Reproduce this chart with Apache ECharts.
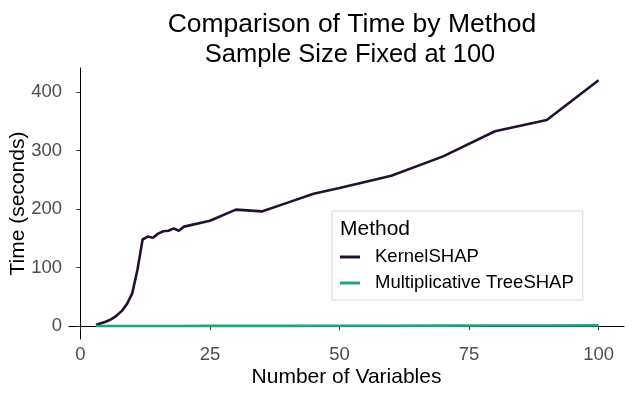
<!doctype html>
<html lang="en">
<head>
	<meta charset="utf-8" />
	<title>Comparison of Time by Method</title>
	<script src="https://cdn.jsdelivr.net/npm/echarts@6/dist/echarts.min.js"></script>
	<style>
		html, body { margin: 0; padding: 0; background: #fff; }
		#chart { width: 632px; height: 393px; }
	</style>
</head>
<body>
	<div id="chart"></div>
	<script>
		// number of variables
		const numVars = [3, 4, 5, 6, 7, 8, 9, 10, 11, 12, 13, 14, 15, 16, 17, 18, 19, 20, 25, 30, 35, 40, 45, 50, 60, 70, 80, 90, 100];
		// time in seconds
		const kernelShap = [2, 5, 8, 12, 18, 26, 38, 56, 96, 148, 153, 151, 158, 162, 163, 167, 163, 170, 180, 199, 196, 211, 226, 236, 257, 290, 333, 352, 420];
		const treeShap = [0.1, 0.1, 0.1, 0.1, 0.1, 0.1, 0.1, 0.2, 0.2, 0.2, 0.2, 0.2, 0.3, 0.3, 0.3, 0.3, 0.3, 0.3, 0.4, 0.4, 0.5, 0.5, 0.6, 0.6, 0.7, 0.8, 1.0, 1.1, 1.3];
		const xTicks = [0, 25, 50, 75, 100];
		const yTicks = [0, 100, 200, 300, 400];

		const font = '"Liberation Sans", Arial, sans-serif';
		const chart = echarts.init(document.getElementById('chart'));
		chart.setOption({
			animation: false,
			title: [
				{
					text: 'Comparison of Time by Method',
					left: 347, top: 6, textAlign: 'center',
					textStyle: { fontFamily: font, fontSize: 26.5, fontWeight: 'normal', color: '#000' }
				},
				{
					text: 'Sample Size Fixed at 100',
					left: 345, top: 37, textAlign: 'center',
					textStyle: { fontFamily: font, fontSize: 25.5, fontWeight: 'normal', color: '#000' }
				}
			],
			grid: { left: 69, right: 8, top: 68, bottom: 54, containLabel: false, outerBoundsMode: 'none' },
			xAxis: {
				type: 'value',
				min: -2.2, max: 104.9,
				name: 'Number of Variables',
				nameLocation: 'middle',
				nameGap: 28,
				nameMoveOverlap: false,
				nameTextStyle: { fontFamily: font, fontSize: 21, color: '#000' },
				splitLine: { show: false },
				axisLine: { lineStyle: { color: '#000', width: 1 } },
				axisTick: { customValues: xTicks, length: 4, lineStyle: { color: '#333' } },
				axisLabel: { customValues: xTicks, margin: 6, fontFamily: font, fontSize: 18.5, color: '#4d4d4d' }
			},
			yAxis: {
				type: 'value',
				min: -22, max: 441,
				name: 'Time (seconds)',
				nameLocation: 'middle',
				nameGap: 40,
				nameMoveOverlap: false,
				nameTextStyle: { fontFamily: font, fontSize: 21, color: '#000' },
				splitLine: { show: false },
				axisLine: { show: true, lineStyle: { color: '#000', width: 1 } },
				axisTick: { show: true, customValues: yTicks, length: 4, lineStyle: { color: '#333' } },
				axisLabel: { customValues: yTicks, margin: 7, fontFamily: font, fontSize: 18.5, color: '#4d4d4d' }
			},
			legend: {
				orient: 'vertical',
				left: 332, top: 211,
				padding: [36, 9, 7, 8],
				icon: 'rect',
				itemWidth: 20, itemHeight: 3, itemGap: 6,
				backgroundColor: '#fff',
				borderColor: '#d9d9d9', borderWidth: 1,
				textStyle: { fontFamily: font, fontSize: 18.5, color: '#000', lineHeight: 20, padding: [0, 0, 0, 10] },
				data: ['KernelSHAP', 'Multiplicative TreeSHAP']
			},
			graphic: [{
				type: 'text', left: 340, top: 219, z: 100,
				style: { text: 'Method', fontFamily: font, fontSize: 21, fill: '#000' }
			}],
			series: [
				{
					name: 'KernelSHAP', type: 'line', symbol: 'none',
					data: numVars.map((x, i) => [x, kernelShap[i]]),
					lineStyle: { color: '#22122f', width: 2.6 },
					itemStyle: { color: '#22122f' }
				},
				{
					name: 'Multiplicative TreeSHAP', type: 'line', symbol: 'none',
					data: numVars.map((x, i) => [x, treeShap[i]]),
					lineStyle: { color: '#22a27d', width: 2.6 },
					itemStyle: { color: '#22a27d' }
				}
			]
		});
	</script>
</body>
</html>
